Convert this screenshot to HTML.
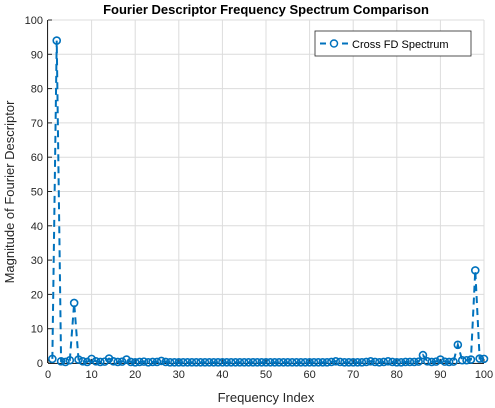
<!DOCTYPE html>
<html><head><meta charset="utf-8"><style>
body{margin:0;background:#fff;}
svg{display:block;font-family:"Liberation Sans",Arial,sans-serif;}
</style></head><body>
<svg id="chart" width="495" height="408">
<rect width="495" height="408" fill="#fff"/>
<text x="266" y="14" text-anchor="middle" font-size="13" font-weight="bold" fill="#000">Fourier Descriptor Frequency Spectrum Comparison</text>
<g id="grid"></g><g id="axes"></g><g id="series"></g>
<text x="266" y="402" text-anchor="middle" font-size="13" fill="#262626">Frequency Index</text>
<text transform="translate(14,192) rotate(-90)" text-anchor="middle" font-size="13" fill="#262626">Magnitude of Fourier Descriptor</text>
<g>
<rect x="315" y="31" width="156" height="25" fill="#fff" stroke="#262626" stroke-width="0.8"/>
<line x1="320" y1="43.5" x2="348" y2="43.5" stroke="#0072BD" stroke-width="2" stroke-dasharray="6,5"/>
<circle cx="334" cy="43.5" r="3.5" fill="#fff" stroke="#0072BD" stroke-width="1.5"/>
<text x="352" y="48" font-size="11" fill="#000">Cross FD Spectrum</text>
</g>
</svg>
<script>
const xTicks=[0,10,20,30,40,50,60,70,80,90,100];
const yTicks=[0,10,20,30,40,50,60,70,80,90,100];
const values=[1.2,94,0.5,0.3,0.8,17.5,1.0,0.5,0.3,1.2,0.5,0.3,0.4,1.3,0.5,0.3,0.4,1.0,0.3,0.2,0.3,0.4,0.2,0.3,0.3,0.6,0.3,0.2,0.2,0.2,0.2,0.2,0.2,0.2,0.2,0.2,0.2,0.2,0.2,0.2,0.2,0.2,0.2,0.2,0.2,0.2,0.2,0.2,0.2,0.2,0.2,0.2,0.2,0.2,0.2,0.2,0.2,0.2,0.2,0.2,0.2,0.2,0.2,0.2,0.3,0.5,0.3,0.2,0.2,0.2,0.2,0.2,0.3,0.5,0.3,0.2,0.3,0.5,0.3,0.2,0.2,0.3,0.3,0.3,0.4,2.3,0.5,0.3,0.4,1.0,0.4,0.3,0.4,5.3,0.8,0.8,1.0,27,1.3,1.2];
const NS='http://www.w3.org/2000/svg';
const X0=48,X1=484,Y0=363,Y1=20;
const sx=v=>X0+(v-0)/(100-0)*(X1-X0);
const sy=v=>Y0-(v-0)/(100-0)*(Y0-Y1);
function mk(t,a,p){const e=document.createElementNS(NS,t);for(const k in a)e.setAttribute(k,a[k]);p.appendChild(e);return e;}
const grid=document.getElementById('grid'),axes=document.getElementById('axes'),ser=document.getElementById('series');
xTicks.forEach(t=>{
 const g=mk('line',{x1:sx(t),x2:sx(t),y1:Y1,y2:Y0,stroke:'#dcdcdc','stroke-width':1},grid);
 
 
 const l=mk('text',{x:sx(t),y:Y0+15,'text-anchor':'middle','font-size':11,fill:'#262626'},axes);
 l.textContent=t;
 
 
 mk('line',{x1:sx(t),x2:sx(t),y1:Y0,y2:Y0-4,stroke:'#262626'},axes);
});
yTicks.forEach(t=>{
 const g=mk('line',{x1:X0,x2:X1,y1:sy(t),y2:sy(t),stroke:'#dcdcdc','stroke-width':1},grid);
 
 
 const l=mk('text',{x:X0-5,y:sy(t)+4,'text-anchor':'end','font-size':11,fill:'#262626'},axes);
 l.textContent=t;
 
 
 mk('line',{x1:X0,x2:X0+4,y1:sy(t),y2:sy(t),stroke:'#262626'},axes);
});
const xa=mk('line',{x1:X0,x2:X1,y1:Y0+0.5,y2:Y0+0.5,stroke:'#262626'},axes);


const ya=mk('line',{x1:X0-0.5,x2:X0-0.5,y1:Y1,y2:Y0,stroke:'#262626'},axes);


const pts=values.map((v,i)=>sx(i+1)+','+sy(v)).join(' ');
const pl=mk('polyline',{points:pts,fill:'none',stroke:'#0072BD','stroke-width':2,'stroke-dasharray':'7,5'},ser);


values.forEach((v,i)=>{
 const c=mk('circle',{cx:sx(i+1),cy:sy(v),r:3.5,fill:'none',stroke:'#0072BD','stroke-width':1.6},ser);
 
 
});
</script>
</body></html>
